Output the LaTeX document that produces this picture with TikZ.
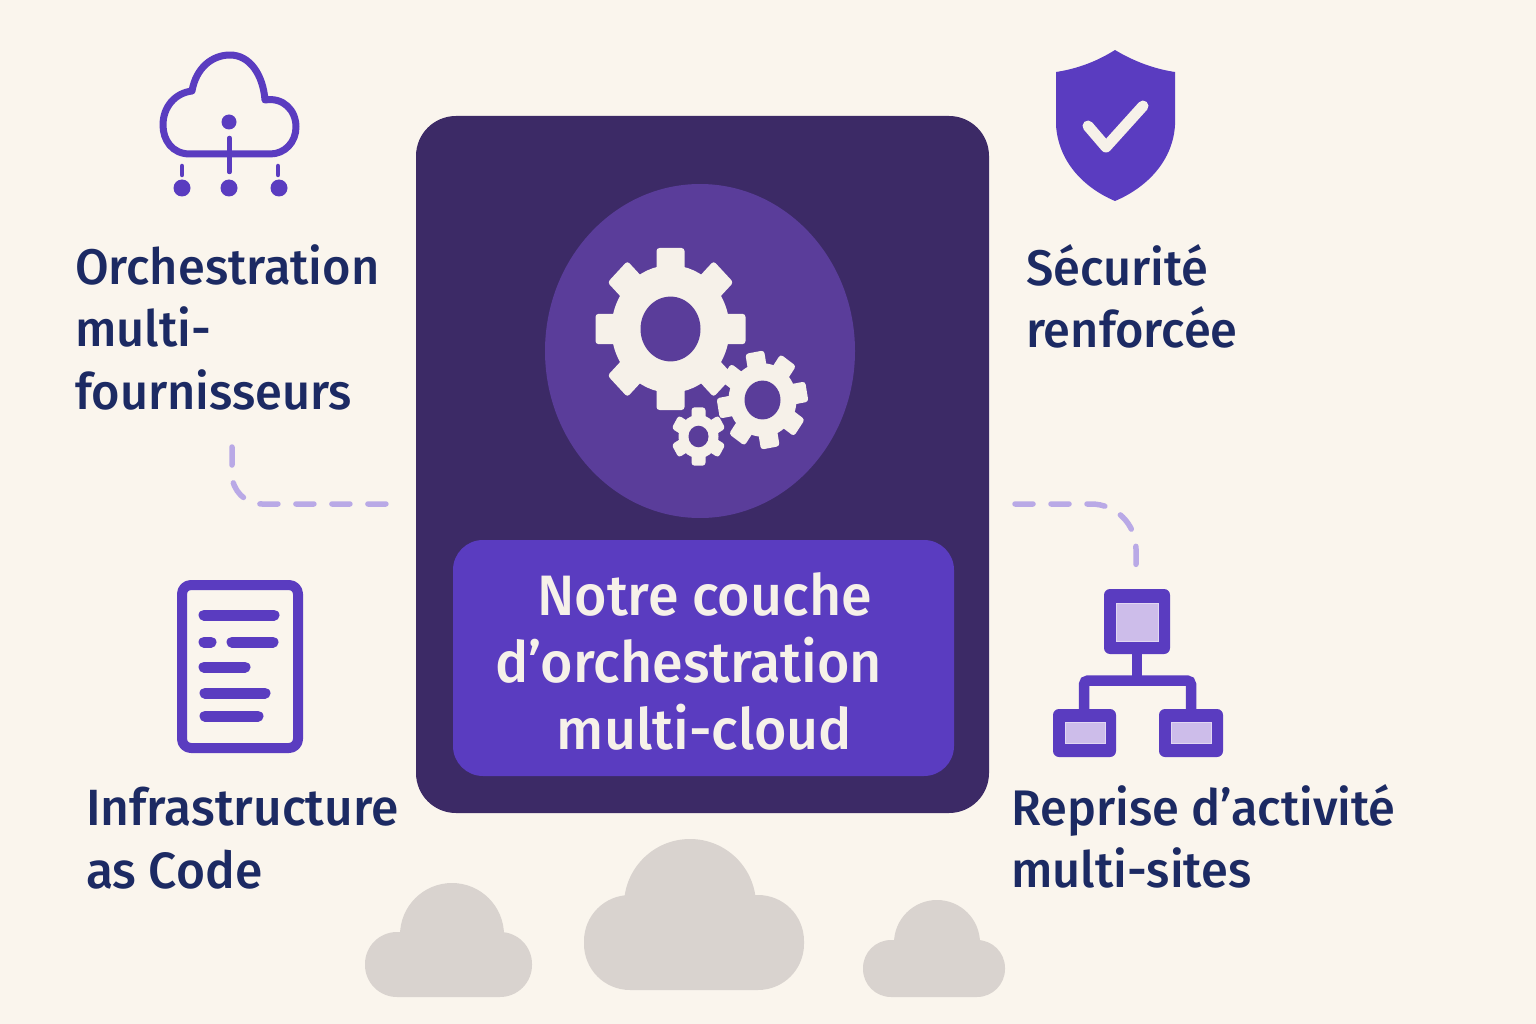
\documentclass[tikz,border=0pt]{standalone}
\usepackage{fontspec}
\setmainfont{Fira Sans}[UprightFont={* Medium},FakeStretch=0.975]
\definecolor{paper}{HTML}{FAF5ED}
\definecolor{panel}{HTML}{3C2A66}
\definecolor{disc}{HTML}{5A3D9A}
\definecolor{violet}{HTML}{5A3CC0}
\definecolor{pale}{HTML}{CDBDEA}
\definecolor{ink}{HTML}{1C2A63}
\definecolor{cream}{HTML}{F6F1E9}
\definecolor{dash}{HTML}{B9A9E6}
\definecolor{fog}{HTML}{D9D3CF}
\tikzset{
  label/.style={text=ink,font=\fontsize{50}{62.5}\selectfont,align=left,anchor=north west,inner sep=0pt},
  icon/.style={draw=violet,line width=8pt,line cap=round,line join=round},
  bar/.style={draw=violet,line width=11pt,line cap=round},
  link/.style={draw=dash,line width=5.5pt,line cap=round,dash pattern=on 18pt off 18pt},
  unit/.style={fill=violet,rounded corners=6pt},
  screen/.style={fill=pale,draw=pale!60!white,line width=1pt},
}
% one gear: x, y, body radius, tooth end, tooth width, hole radius, teeth, turn
\newcommand{\cog}[8]{
  \begin{scope}[shift={(#1,#2)},yscale=1.08]
    \fill[cream] (0,0) circle (#3);
    \pgfmathsetmacro{\cogstep}{360/#7}
    \foreach \k in {1,...,#7} {
      \fill[cream,rotate=#8+\k*\cogstep,rounded corners=3pt]
        (-#5/2,0) rectangle (#5/2,-#4);
    }
    \fill[disc] (0,0) circle (#6);
  \end{scope}
}
\begin{document}
\begin{tikzpicture}[x=1pt,y=-1pt]
  \useasboundingbox (0,0) rectangle (1536,1024);
  \fill[paper] (0,0) rectangle (1536,1024);

  % clouds at the bottom
  \fill[fog,rounded corners=32pt] (365,932) rectangle (532,997);
  \fill[fog] (452,935) circle (52);
  \fill[fog,rounded corners=46pt] (584,895) rectangle (804,990);
  \fill[fog] (690,905) circle (66);
  \fill[fog,rounded corners=28pt] (863,940) rectangle (1005,997);
  \fill[fog] (937,943) circle (43);

  % centre panel
  \fill[panel,rounded corners=40pt] (416,116) rectangle (989,813);
  \fill[disc] (700,351) circle[x radius=155,y radius=167];
  \cog{670.5}{329}{59}{75}{28}{30}{8}{0}
  \cog{762.5}{400}{34}{45}{19}{18}{8}{10}
  \cog{698.5}{436.5}{20}{27}{14}{10}{6}{0}
  \node[fill=violet,rounded corners=30pt,minimum width=501pt,minimum height=236pt] (titlebox) at (703.5,658) {};
  \node[text=cream,font=\fontsize{57}{67}\selectfont,align=center] (title) at (704.5,661)
    {Notre couche\\d’orchestration\rule{32pt}{0pt}\\multi-cloud};

  % cloud icon
  \draw[icon,line width=7pt] (190,154) .. controls (172,154) and (163,140) .. (163,125)
    .. controls (163,107) and (175,93) .. (192,91)
    .. controls (196,68) and (212,55) .. (230,55)
    .. controls (250,55) and (263,75) .. (265,100)
    .. controls (283,97) and (296,110) .. (296,127)
    .. controls (296,142) and (285,154) .. (270,154) -- cycle;
  \draw[icon,line width=4.5pt] (229.5,138) -- (229.5,172);
  \draw[icon,line width=4.5pt] (182,166) -- (182,175);
  \draw[icon,line width=4.5pt] (278,166) -- (278,175);
  \fill[violet] (229,122) circle (7.5);
  \foreach \x in {182,229,279} \fill[violet] (\x,188) circle (8.5);
  \node[label] (orch) at (75,244) {Orchestration\\multi-\\fournisseurs};

  % shield
  \fill[violet] (1115,50) .. controls (1135,62) and (1155,69) .. (1175,72)
    -- (1175,125) .. controls (1173,160) and (1148,187) .. (1115,201)
    .. controls (1082,187) and (1058,160) .. (1056,125) -- (1056,72)
    .. controls (1076,69) and (1096,62) .. (1115,50) -- cycle;
  \draw[cream,line width=11pt,line cap=round,line join=round] (1088,126) -- (1106,147) -- (1143,106);
  \node[label] (secu) at (1026,244) {Sécurité\\renforcée};

  % document
  \draw[icon,line width=10pt,rounded corners=9pt] (182,585) rectangle (298,748);
  \draw[bar] (204,615) -- (274,615);
  \draw[bar] (204,642) -- (211,642);
  \draw[bar] (232,642) -- (273,642);
  \draw[bar] (204,667) -- (245,667);
  \draw[bar] (205,693) -- (265,693);
  \draw[bar] (205,716) -- (258,716);
  \node[label,font=\fontsize{51}{62.5}\selectfont] (iac) at (86,787) {Infrastructure\\as Code};

  % sites
  \draw[violet,line width=10pt,line join=round] (1137,654) -- (1137,680.5);
  \draw[violet,line width=10.5pt,rounded corners=4pt] (1084,709) -- (1084,680.5) -- (1191,680.5) -- (1191,709);
  \fill[unit] (1104,589) rectangle (1170,654);
  \fill[unit] (1053,709) rectangle (1116,757);
  \fill[unit] (1159,709) rectangle (1223,757);
  \filldraw[screen] (1116,603) rectangle (1158,641);
  \filldraw[screen] (1065,722) rectangle (1105,743);
  \filldraw[screen] (1171,722) rectangle (1211,743);
  \node[label] (sites) at (1011,784) {Reprise d’activité\\multi-sites};

  % dashed links
  \coordinate (orchfoot) at (232,447);
  \coordinate (panelw) at (392,504);
  \coordinate (panele) at (1015,504);
  \coordinate (sitestop) at (1136,572);
  \draw[link,rounded corners=30pt] (orchfoot) |- (panelw);
  \draw[link,rounded corners=45pt] (panele) -| (sitestop);
\end{tikzpicture}
\end{document}
